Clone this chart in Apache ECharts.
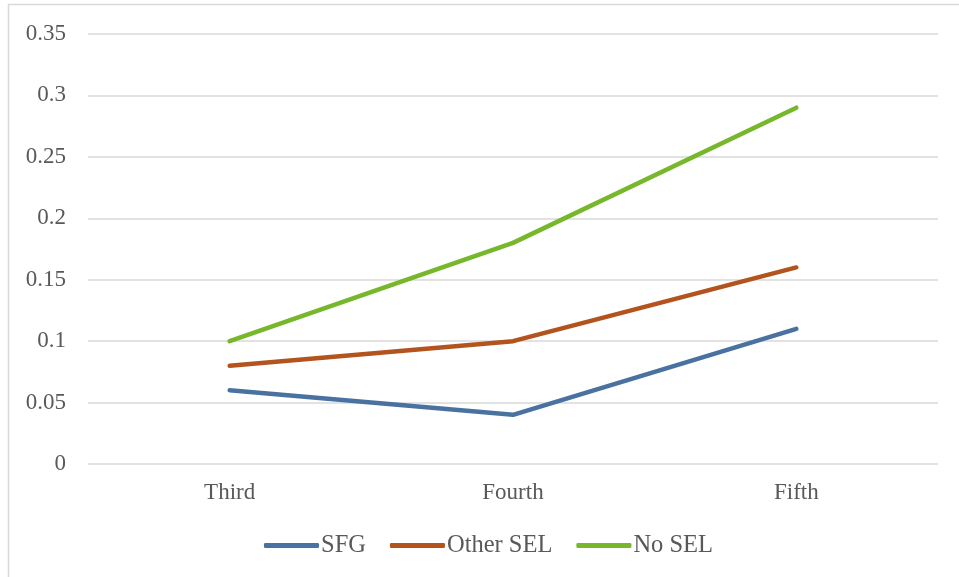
<!DOCTYPE html>
<html>
<head>
<meta charset="utf-8">
<script src="https://cdn.jsdelivr.net/npm/echarts@6/dist/echarts.min.js"></script>
<style>
  html, body { margin: 0; padding: 0; background: #fff; }
  #chart { width: 959px; height: 577px; }
</style>
</head>
<body>
<div id="chart"></div>
<script>
  // grades on the x axis
  const categories = ['Third', 'Fourth', 'Fifth']
  // series values
  const sfg = [0.06, 0.04, 0.11]
  const otherSel = [0.08, 0.10, 0.16]
  const noSel = [0.10, 0.18, 0.29]

  const font = 'Liberation Serif, Times New Roman, serif'
  const textColor = '#595959'

  const chart = echarts.init(document.getElementById('chart'))

  function line(name, data, color) {
    return {
      name: name,
      type: 'line',
      data: data,
      symbol: 'none',
      lineStyle: { color: color, width: 4.5, cap: 'round' },
      itemStyle: { color: color },
      animation: false
    }
  }

  chart.setOption({
    backgroundColor: '#fff',
    graphic: [{
      type: 'rect',
      shape: { x: 8.5, y: 4.5, width: 1200, height: 1200 },
      style: { fill: 'none', stroke: '#d9d9d9', lineWidth: 1.5 },
      silent: true
    }],
    grid: { left: 88, right: 21, top: 34, bottom: 113 },
    xAxis: {
      type: 'category',
      data: categories,
      boundaryGap: true,
      axisLine: { show: false },
      axisTick: { show: false },
      axisLabel: { color: textColor, fontFamily: font, fontSize: 23, margin: 17 }
    },
    yAxis: {
      type: 'value',
      min: 0,
      max: 0.35,
      interval: 0.05,
      axisLine: { show: false },
      axisTick: { show: false },
      splitLine: { lineStyle: { color: '#d9d9d9', width: 1.5 } },
      axisLabel: {
        color: textColor, fontFamily: font, fontSize: 23, margin: 22,
        formatter: v => String(parseFloat(v.toFixed(2)))
      }
    },
    legend: {
      bottom: 14,
      left: 259,
      icon: 'roundRect',
      itemWidth: 55,
      itemHeight: 5,
      itemGap: 24,
      textStyle: { color: textColor, fontFamily: font, fontSize: 24.5, padding: [0, 0, 0, -3] },
      data: ['SFG', 'Other SEL', 'No SEL']
    },
    series: [
      line('SFG', sfg, '#4A72A0'),
      line('Other SEL', otherSel, '#B3541E'),
      line('No SEL', noSel, '#77B72B')
    ]
  })
</script>
</body>
</html>
